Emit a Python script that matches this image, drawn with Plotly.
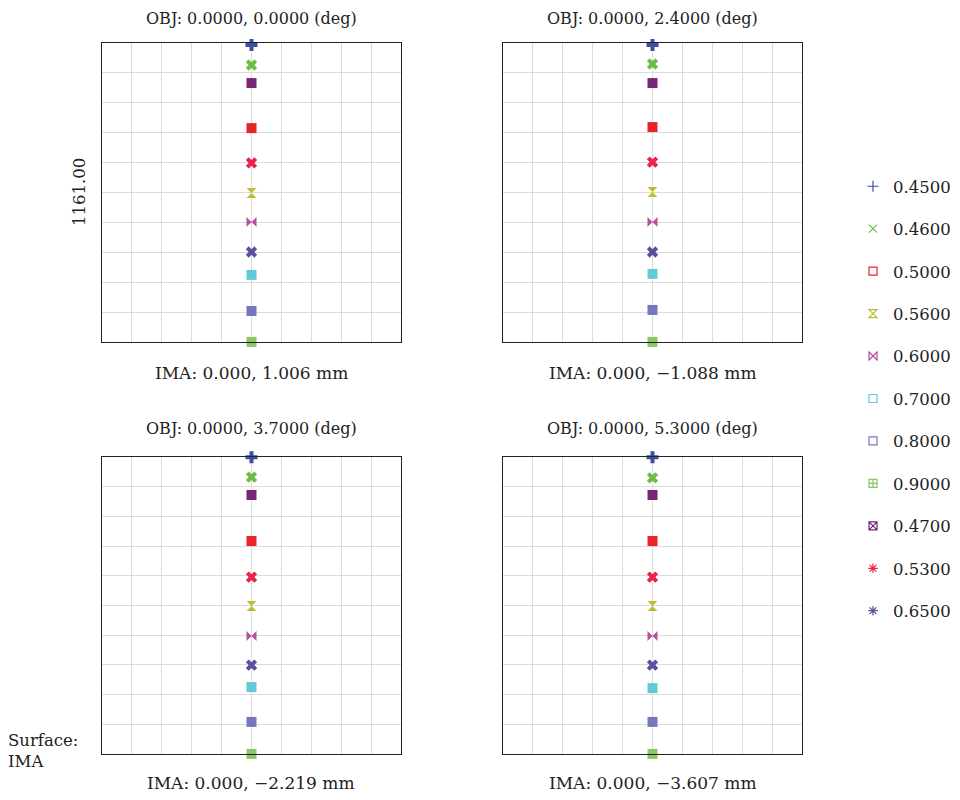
import plotly.graph_objects as go

# Wavelengths in legend order (µm)
wavelengths = ["0.4500", "0.4600", "0.5000", "0.5600", "0.6000", "0.7000",
               "0.8000", "0.9000", "0.4700", "0.5300", "0.6500"]
colors = ["#3d4f9f", "#6bbd48", "#e8232a", "#bfbd2e", "#b84f9f", "#62c9d9",
          "#7576bd", "#8bc764", "#7a2677", "#e8234c", "#5f4c9e"]
legend_symbols = ["cross-thin-open", "x-thin-open", "square-open", "hourglass-open",
                  "bowtie-open", "square-open", "square-open", "square-cross-open",
                  "square-x-open", "asterisk-open", "asterisk-open"]
plot_symbols = ["cross", "x", "square", "hourglass", "bowtie", "square",
                "square", "square", "square", "x", "x"]

fields = ["OBJ: 0.0000, 0.0000 (deg)", "OBJ: 0.0000, 2.4000 (deg)",
          "OBJ: 0.0000, 3.7000 (deg)", "OBJ: 0.0000, 5.3000 (deg)"]
ima_labels = ["IMA: 0.000, 1.006 mm", "IMA: 0.000, \u22121.088 mm",
              "IMA: 0.000, \u22122.219 mm", "IMA: 0.000, \u22123.607 mm"]

# Spot centre positions relative to chief ray (µm), per field, legend order
spot_x = [
    [0, 0, 0, 0, 0, 0, 0, 0, 0, 0, 0],
    [0, 0, 0, 0, 0, 0, 0, 0, 0, 0, 0],
    [0, 0, 0, 0, 0, 0, 0, 0, 0, 0, 0],
    [0, 0, 0, 0, 0, 0, 0, 0, 0, 0, 0],
]
spot_y = [
    [573, 495, 250, -2, -115, -320, -460, -580, 425, 115, -231],
    [573, 499, 254, 2, -115, -316, -456, -580, 425, 118, -231],
    [580, 502, 252, -2, -119, -319, -455, -580, 432, 111, -233],
    [580, 499, 252, -2, -119, -323, -455, -580, 432, 111, -233],
]
box_size = 1161.00
scale_label = "1161.00"

FONT = "DejaVu Serif"
TXT = "#222222"
W, H, OFF = 952, 792, 8


def px(x):
    return (x - OFF) / W


def py(y):
    return 1 - (y - OFF) / H


fig = go.Figure()

domains_x = [(px(102), px(401)), (px(503), px(802)), (px(102), px(401)), (px(503), px(802))]
domains_y = [(py(342), py(43)), (py(342), py(43)), (py(754), py(457)), (py(754), py(457))]
half = box_size / 2

for f in range(4):
    ax = "" if f == 0 else str(f + 1)
    for i, wl in enumerate(wavelengths):
        fig.add_trace(go.Scatter(
            x=[spot_x[f][i]], y=[spot_y[f][i]], mode="markers",
            xaxis="x" + ax, yaxis="y" + ax, showlegend=False,
            cliponaxis=False,
            marker=dict(symbol=plot_symbols[i], size=10, color=colors[i],
                        line=dict(width=0)),
            hoverinfo="skip"))
    fig.layout["xaxis" + ax] = dict(
        domain=domains_x[f], range=[-half, half], dtick=box_size / 10, tick0=-half,
        showticklabels=False, ticks="", showgrid=True, gridcolor="#dcdcdc",
        gridwidth=1, zeroline=False, showline=True, linecolor="#222222",
        linewidth=1.2, mirror=True, anchor="y" + ax, fixedrange=True)
    fig.layout["yaxis" + ax] = dict(
        domain=domains_y[f], range=[-half, half], dtick=box_size / 10, tick0=-half,
        showticklabels=False, ticks="", showgrid=True, gridcolor="#dcdcdc",
        gridwidth=1, zeroline=False, showline=True, linecolor="#222222",
        linewidth=1.2, mirror=True, anchor="x" + ax, fixedrange=True)

# legend-only traces
for i, wl in enumerate(wavelengths):
    fig.add_trace(go.Scatter(
        x=[None], y=[None], mode="markers", name=wl, legendgroup=wl,
        marker=dict(symbol=legend_symbols[i], size=8, color=colors[i],
                    line=dict(width=1.2, color=colors[i]))))

ann = []
ima_y = [py(373), py(373), py(783), py(783)]
for f in range(4):
    xc = (domains_x[f][0] + domains_x[f][1]) / 2
    if f < 2:
        ann.append(dict(text=fields[f], x=xc, y=1.0, xref="paper", yref="paper",
                        showarrow=False, xanchor="center", yanchor="top", borderpad=0,
                        font=dict(family=FONT, size=16, color=TXT)))
    else:
        ann.append(dict(text=fields[f], x=xc, y=py(428), xref="paper", yref="paper",
                        showarrow=False, xanchor="center", yanchor="middle",
                        font=dict(family=FONT, size=16, color=TXT)))
    ann.append(dict(text=ima_labels[f], x=xc, y=ima_y[f], xref="paper", yref="paper",
                    showarrow=False, xanchor="center", yanchor="middle",
                    font=dict(family=FONT, size=17, color=TXT)))
ann.append(dict(text=scale_label, x=px(80), y=py(192), xref="paper", yref="paper",
                showarrow=False, textangle=-90, xanchor="center", yanchor="middle",
                font=dict(family=FONT, size=16.5, color=TXT)))
ann.append(dict(text="Surface:<br>IMA", x=px(6), y=py(751), xref="paper", yref="paper",
                showarrow=False, xanchor="left", yanchor="middle", align="left",
                font=dict(family=FONT, size=16.5, color=TXT)))

fig.update_layout(
    width=W, height=H, margin=dict(l=0, r=0, t=0, b=0),
    paper_bgcolor="white", plot_bgcolor="white",
    annotations=ann,
    legend=dict(x=px(853), y=py(169), xanchor="left", yanchor="top",
                font=dict(family=FONT, size=16.5, color=TXT),
                tracegroupgap=18, bgcolor="rgba(0,0,0,0)"),
    font=dict(family=FONT),
)

fig.write_html("out.html")
